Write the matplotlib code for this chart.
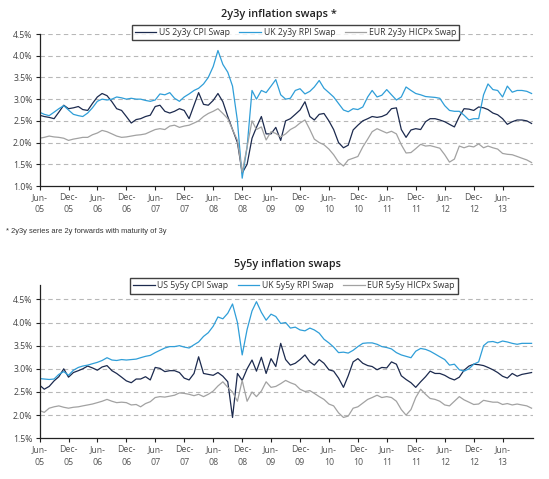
import matplotlib
matplotlib.use("Agg")
import matplotlib.pyplot as plt
import pandas as pd

# ---------------- data (monthly, Jun-2005 .. Dec-2013), values in % ----------------
dates = pd.date_range("2005-06-01", periods=103, freq="MS")

us_2y3y = [2.63, 2.60, 2.58, 2.55, 2.70, 2.86, 2.78, 2.80, 2.83, 2.76,
           2.74, 2.90, 3.05, 3.13, 3.08, 2.94, 2.78, 2.74, 2.60, 2.45,
           2.53, 2.55, 2.60, 2.63, 2.83, 2.86, 2.72, 2.68, 2.72, 2.78,
           2.74, 2.55, 2.86, 3.15, 2.88, 2.86, 2.97, 3.13, 2.94, 2.60,
           2.30, 2.00, 1.30, 1.50, 2.10, 2.35, 2.60, 2.20, 2.20, 2.35,
           2.05, 2.50, 2.55, 2.65, 2.75, 2.94, 2.60, 2.52, 2.65, 2.67,
           2.50, 2.30, 2.00, 1.88, 1.94, 2.29, 2.40, 2.50, 2.55, 2.60,
           2.58, 2.60, 2.65, 2.78, 2.80, 2.30, 2.12, 2.29, 2.32, 2.30,
           2.48, 2.55, 2.55, 2.52, 2.48, 2.42, 2.36, 2.60, 2.78, 2.77,
           2.74, 2.82, 2.80, 2.76, 2.68, 2.64, 2.55, 2.42, 2.48, 2.52,
           2.52, 2.50, 2.44]

uk_2y3y = [2.70, 2.65, 2.62, 2.70, 2.78, 2.85, 2.75, 2.65, 2.62, 2.60,
           2.68, 2.80, 2.95, 3.00, 2.98, 3.00, 3.05, 3.03, 3.00, 3.02,
           3.00, 3.00, 2.97, 2.95, 2.98, 3.12, 3.10, 3.15, 3.02, 2.95,
           3.05, 3.12, 3.20, 3.25, 3.35, 3.50, 3.75, 4.12, 3.80, 3.62,
           3.30, 2.50, 1.18, 1.90, 3.20, 3.00, 3.20, 3.15, 3.30, 3.45,
           3.10, 3.00, 3.02, 3.20, 3.24, 3.12, 3.18, 3.28, 3.43, 3.25,
           3.15, 3.05, 2.90, 2.75, 2.71, 2.78, 2.76, 2.82, 3.05, 3.20,
           3.05, 3.09, 3.22, 3.10, 2.98, 3.05, 3.28, 3.20, 3.13, 3.10,
           3.06, 3.05, 3.04, 3.02, 2.85, 2.74, 2.72, 2.72, 2.63, 2.52,
           2.55, 2.55, 3.10, 3.35, 3.22, 3.20, 3.05, 3.30, 3.16, 3.20,
           3.20, 3.18, 3.13]

eur_2y3y = [2.10, 2.12, 2.15, 2.13, 2.12, 2.10, 2.05, 2.08, 2.10, 2.12,
            2.12, 2.18, 2.22, 2.28, 2.25, 2.20, 2.15, 2.12, 2.13, 2.15,
            2.17, 2.18, 2.20, 2.25, 2.30, 2.32, 2.30, 2.38, 2.40, 2.35,
            2.38, 2.40, 2.45, 2.50, 2.60, 2.67, 2.72, 2.78, 2.67, 2.55,
            2.30, 2.05, 1.32, 1.90, 2.50, 2.30, 2.36, 2.06, 2.25, 2.21,
            2.13, 2.20, 2.30, 2.36, 2.45, 2.52, 2.30, 2.08, 2.00, 1.95,
            1.85, 1.72, 1.55, 1.46, 1.60, 1.64, 1.68, 1.90, 2.08, 2.25,
            2.32, 2.27, 2.22, 2.26, 2.20, 1.95, 1.76, 1.77, 1.86, 1.96,
            1.92, 1.93, 1.90, 1.87, 1.72, 1.55, 1.62, 1.92, 1.88, 1.92,
            1.90, 1.97, 1.88, 1.92, 1.88, 1.85, 1.75, 1.73, 1.72, 1.68,
            1.64, 1.60, 1.54]

us_5y5y = [2.65, 2.56, 2.62, 2.74, 2.83, 3.00, 2.82, 2.92, 2.96, 3.00,
           3.06, 3.02, 2.97, 3.04, 3.07, 2.96, 2.90, 2.82, 2.74, 2.70,
           2.78, 2.78, 2.83, 2.76, 3.03, 3.01, 2.94, 2.96, 2.96, 2.92,
           2.80, 2.76, 2.90, 3.26, 2.90, 2.88, 2.86, 2.92, 2.84, 2.72,
           1.95, 2.90, 2.75, 3.00, 3.19, 2.95, 3.25, 2.90, 3.22, 3.05,
           3.55, 3.20, 3.08, 3.12, 3.20, 3.30, 3.15, 3.08, 3.20, 3.12,
           2.98, 2.95, 2.80, 2.60, 2.85, 3.15, 3.22, 3.12, 3.07, 3.05,
           2.98, 3.03, 3.02, 3.15, 3.10, 2.85, 2.77, 2.70, 2.60, 2.72,
           2.83, 2.95, 2.90, 2.90, 2.86, 2.80, 2.76, 2.82, 2.97, 3.06,
           3.10, 3.09, 3.07, 3.03, 2.98, 2.92, 2.84, 2.80, 2.90, 2.84,
           2.88, 2.90, 2.92]

uk_5y5y = [2.79, 2.78, 2.77, 2.78, 2.88, 2.94, 2.86, 2.97, 3.03, 3.06,
           3.08, 3.11, 3.14, 3.18, 3.24, 3.19, 3.18, 3.20, 3.19, 3.20,
           3.21, 3.24, 3.27, 3.29, 3.35, 3.40, 3.45, 3.48, 3.48, 3.50,
           3.47, 3.45, 3.52, 3.58, 3.70, 3.78, 3.92, 4.12, 4.08, 4.20,
           4.40, 4.00, 3.30, 3.85, 4.25, 4.45, 4.22, 4.05, 4.18, 4.13,
           3.98, 4.00, 3.88, 3.90, 3.84, 3.82, 3.88, 3.84, 3.77, 3.64,
           3.56, 3.47, 3.35, 3.36, 3.34, 3.40, 3.48, 3.55, 3.56, 3.56,
           3.53, 3.48, 3.46, 3.43, 3.35, 3.30, 3.27, 3.24, 3.38, 3.44,
           3.42, 3.38, 3.32, 3.26, 3.20, 3.08, 3.10, 2.98, 2.95, 3.00,
           3.10, 3.15, 3.50, 3.58, 3.59, 3.56, 3.60, 3.58, 3.55, 3.53,
           3.55, 3.55, 3.55]

eur_5y5y = [2.10, 2.06, 2.15, 2.18, 2.20, 2.17, 2.15, 2.17, 2.18, 2.20,
            2.22, 2.24, 2.27, 2.30, 2.34, 2.30, 2.27, 2.28, 2.27, 2.22,
            2.23, 2.18, 2.25, 2.29, 2.38, 2.40, 2.39, 2.41, 2.43, 2.48,
            2.47, 2.45, 2.42, 2.45, 2.40, 2.45, 2.52, 2.63, 2.72, 2.60,
            2.50, 2.30, 2.75, 2.30, 2.50, 2.40, 2.52, 2.72, 2.60, 2.62,
            2.68, 2.75, 2.70, 2.66, 2.56, 2.51, 2.53, 2.47, 2.40, 2.34,
            2.24, 2.20, 2.05, 1.95, 1.98, 2.15, 2.18, 2.26, 2.34, 2.38,
            2.43, 2.38, 2.40, 2.38, 2.30, 2.12, 2.00, 2.12, 2.38, 2.56,
            2.45, 2.36, 2.34, 2.30, 2.22, 2.20, 2.30, 2.40, 2.33, 2.28,
            2.23, 2.24, 2.32, 2.30, 2.28, 2.28, 2.23, 2.25, 2.22, 2.24,
            2.22, 2.20, 2.15]

labels_2y3y = ["US 2y3y CPI Swap", "UK 2y3y RPI Swap", "EUR 2y3y HICPx Swap"]
labels_5y5y = ["US 5y5y CPI Swap", "UK 5y5y RPI Swap", "EUR 5y5y HICPx Swap"]

# ---------------- style ----------------
C_US = "#1c2a4e"
C_UK = "#2f9ed8"
C_EU = "#a2a2a2"
plt.rcParams["font.family"] = ["Open Sans", "DejaVu Sans"]

W, H = 549, 479
fig = plt.figure(figsize=(W / 100, H / 100), dpi=100)


def ax_rect(x0, x1, y_top, y_bot):
    return [x0 / W, 1 - y_bot / H, (x1 - x0) / W, (y_bot - y_top) / H]


def style_axes(ax, ylim, yticks):
    ax.set_ylim(*ylim)
    ax.set_xlim(pd.Timestamp("2005-06-01"), pd.Timestamp("2013-12-10"))
    ax.set_yticks(yticks)
    ax.set_yticklabels([f"{v:.1f}%" for v in yticks], fontsize=6.3, color="#444444")
    tick_dates = pd.date_range("2005-06-01", "2013-06-01", freq="6MS")
    ax.set_xticks(tick_dates)
    ax.set_xticklabels([d.strftime("%b-\n%y") for d in tick_dates],
                       fontsize=6.3, color="#555555", linespacing=1.5)
    for s in ["top", "right"]:
        ax.spines[s].set_visible(False)
    for s in ["left", "bottom"]:
        ax.spines[s].set_color("#222222")
        ax.spines[s].set_linewidth(0.9)
    ax.tick_params(axis="both", direction="out", length=3, width=0.8,
                   color="#222222", pad=2)
    for v in yticks[1:]:
        ax.axhline(v, color="#b8b8b8", lw=0.8, ls=(0, (4, 3)), zorder=0)


def add_legend(handles, labels, cx, cy):
    leg = fig.legend(handles, labels, loc="center",
                     bbox_to_anchor=(cx / W, 1 - cy / H), ncol=3, fontsize=6.2,
                     frameon=True, fancybox=False, edgecolor="#111111",
                     handlelength=2.5, handletextpad=0.3, columnspacing=1.1,
                     borderpad=0.35, labelcolor="#333333")
    leg.get_frame().set_linewidth(1.0)
    return leg


# ---- top chart ----
ax1 = fig.add_axes(ax_rect(39.5, 533, 34, 186))
l1 = ax1.plot(dates, us_2y3y, color=C_US, lw=0.9)
l2 = ax1.plot(dates, uk_2y3y, color=C_UK, lw=0.9)
l3 = ax1.plot(dates, eur_2y3y, color=C_EU, lw=0.9)
style_axes(ax1, (1.0, 4.5), [1.0, 1.5, 2.0, 2.5, 3.0, 3.5, 4.0, 4.5])
fig.text(279 / W, 1 - 14 / H, "2y3y inflation swaps *", ha="center", va="center",
         fontsize=7.8, color="#222222", fontweight="semibold")
add_legend([l1[0], l2[0], l3[0]], labels_2y3y, 295.5, 32.5)

fig.text(6 / W, 1 - 231.5 / H, "* 2y3y series are 2y forwards with maturity of 3y",
         ha="left", va="center", fontsize=5.4, color="#333333",
         family=["Liberation Sans", "DejaVu Sans"])

# ---- bottom chart ----
ax2 = fig.add_axes(ax_rect(39.5, 533, 285, 438.3))
m1 = ax2.plot(dates, us_5y5y, color=C_US, lw=0.9)
m2 = ax2.plot(dates, uk_5y5y, color=C_UK, lw=0.9)
m3 = ax2.plot(dates, eur_5y5y, color=C_EU, lw=0.9)
style_axes(ax2, (1.5, 4.81), [1.5, 2.0, 2.5, 3.0, 3.5, 4.0, 4.5])
fig.text(287 / W, 1 - 265 / H, "5y5y inflation swaps", ha="center", va="center",
         fontsize=7.8, color="#222222", fontweight="semibold")
add_legend([m1[0], m2[0], m3[0]], labels_5y5y, 294, 286)

fig.savefig("out.png", dpi=100)
